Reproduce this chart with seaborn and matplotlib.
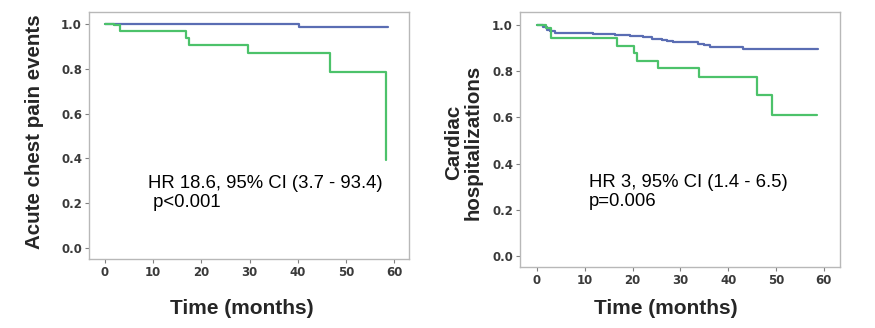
import matplotlib
matplotlib.use("Agg")
import matplotlib.pyplot as plt
import seaborn as sns
import pandas as pd

# ---- data (Kaplan-Meier step points: time in months, survival after that time)
left_blue_t = [0, 1.5, 40.2, 58.7]
left_blue_s = [1.0, 1.0, 0.987, 0.987]
left_green_t = [0, 1.8, 3.1, 16.8, 17.4, 29.6, 46.7, 58.2]
left_green_s = [1.0, 0.997, 0.970, 0.939, 0.908, 0.872, 0.786, 0.393]

right_blue_t = [0, 1.3, 2.0, 2.7, 3.8, 4.8, 11.8, 16.3, 19.5, 22.2, 24.0, 26.1,
                27.1, 28.5, 33.7, 35.0, 36.2, 43.2, 58.8]
right_blue_s = [1.0, 0.99, 0.98, 0.972, 0.967, 0.963, 0.960, 0.955, 0.950, 0.946,
                0.940, 0.935, 0.929, 0.924, 0.918, 0.911, 0.904, 0.895, 0.895]
right_green_t = [0, 1.8, 3.0, 16.8, 20.2, 20.9, 25.4, 33.9, 46.1, 49.1, 58.5]
right_green_s = [1.0, 0.985, 0.942, 0.910, 0.878, 0.845, 0.812, 0.776, 0.697, 0.610, 0.610]

x_ticks = [0, 10, 20, 30, 40, 50, 60]
y_ticks = [0.0, 0.2, 0.4, 0.6, 0.8, 1.0]
left_ylabel = "Acute chest pain events"
right_ylabel = "Cardiac\nhospitalizations"
xlabel = "Time (months)"
left_text = "HR 18.6, 95% CI (3.7 - 93.4)\n p<0.001"
right_text = "HR 3, 95% CI (1.4 - 6.5)\np=0.006"

BLUE = "#5a6db3"
GREEN = "#4cc26a"

sns.set_theme(style="white")
plt.rcParams['font.family'] = ['Liberation Sans', 'DejaVu Sans']

fig = plt.figure(figsize=(8.75, 3.28), dpi=100)
axL = fig.add_axes([89/875, 1-259/328, 320/875, 247/328])
axR = fig.add_axes([520/875, 1-267/328, 320/875, 255/328])


def draw(ax, bt, bs, gt, gs, xlim, ylim):
    dfb = pd.DataFrame({"t": bt, "s": bs})
    dfg = pd.DataFrame({"t": gt, "s": gs})
    sns.lineplot(data=dfb, x="t", y="s", ax=ax, color=BLUE, lw=1.6,
                 drawstyle="steps-post", estimator=None, sort=False)
    sns.lineplot(data=dfg, x="t", y="s", ax=ax, color=GREEN, lw=1.6,
                 drawstyle="steps-post", estimator=None, sort=False)
    ax.set_xlim(*xlim)
    ax.set_ylim(*ylim)
    ax.set_xticks(x_ticks)
    ax.set_yticks(y_ticks)
    ax.set_xticklabels([str(v) for v in x_ticks], fontfamily="DejaVu Sans",
                       fontweight="bold", fontsize=8.5, color="#3a3a3a")
    ax.set_yticklabels([f"{v:.1f}" for v in y_ticks], fontfamily="DejaVu Sans",
                       fontweight="bold", fontsize=8.5, color="#3a3a3a")
    ax.tick_params(axis="both", direction="out", length=3, width=0.8,
                   color="#808080", pad=2, bottom=True, left=True)
    for sp in ax.spines.values():
        sp.set_visible(True)
        sp.set_color("#b8b8b8")
        sp.set_linewidth(1.0)
    ax.set_xlabel("")
    ax.set_ylabel("")


draw(axL, left_blue_t, left_blue_s, left_green_t, left_green_s,
     (-3.32, 63.07), (-0.049, 1.054))
draw(axR, right_blue_t, right_blue_s, right_green_t, right_green_s,
     (-3.56, 63.4), (-0.048, 1.056))

axL.text(8.9, 0.245, left_text, fontsize=13.3, color="black", va="center",
         ha="left", linespacing=1.15)
axR.text(10.9, 0.277, right_text, fontsize=13.3, color="black", va="center",
         ha="left", linespacing=1.15)

fig.text(35/875, 1-132/328, left_ylabel, rotation=90, fontsize=14.8,
         fontweight="bold", ha="center", va="center")
fig.text(463/875, 1-142/328, right_ylabel, rotation=90, fontsize=14.8,
         fontweight="bold", ha="center", va="center", linespacing=1.05)
fig.text(242/875, 1-308/328, xlabel, fontsize=15, fontweight="bold",
         ha="center", va="center")
fig.text(666/875, 1-308/328, xlabel, fontsize=15, fontweight="bold",
         ha="center", va="center")

fig.savefig("out.png", dpi=100, facecolor="white")
